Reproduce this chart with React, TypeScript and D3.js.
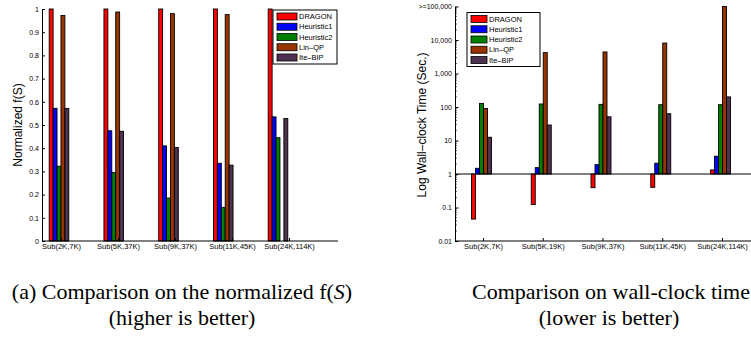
import { useEffect, useRef } from "react";
import * as d3 from "d3";

const scoreSubsets = ["Sub(2K,7K)", "Sub(5K,37K)", "Sub(9K,37K)", "Sub(11K,45K)", "Sub(24K,114K)"];
const timeSubsets = ["Sub(2K,7K)", "Sub(5K,19K)", "Sub(9K,37K)", "Sub(11K,45K)", "Sub(24K,114K)"];
const methods = ["DRAGON", "Heuristic1", "Heuristic2", "Lin\u2013QP", "Ite\u2013BIP"];
const colors = ["#ff0000", "#0000ff", "#007f00", "#993300", "#4d3350"];

// normalized f(S), null = not run
const dragonScore = [1, 1, 1, 1, 1];
const heur1Score = [0.572, 0.475, 0.41, 0.335, 0.535];
const heur2Score = [0.322, 0.295, 0.185, 0.145, 0.445];
const linqpScore = [0.972, 0.987, 0.98, 0.976, null];
const itebipScore = [0.571, 0.473, 0.403, 0.327, 0.528];

// wall-clock seconds
const dragonTime = [0.045, 0.123, 0.39, 0.4, 1.32];
const heur1Time = [1.48, 1.55, 1.9, 2.1, 3.4];
const heur2Time = [128, 123, 120, 117, 117];
const linqpTime = [90, 4200, 4400, 8100, 100000];
const itebipTime = [12.5, 29, 51, 63, 200];

const scoreTicks = [0, 0.1, 0.2, 0.3, 0.4, 0.5, 0.6, 0.7, 0.8, 0.9, 1];
const scoreTickLabels = ["0", "0.1", "0.2", "0.3", "0.4", "0.5", "0.6", "0.7", "0.8", "0.9", "1"];
const timeTicks = [0.01, 0.1, 1, 10, 100, 1000, 10000, 100000];
const timeTickLabels = ["0.01", "0.1", "1", "10", "100", "1,000", "10,000", ">=100,000"];

const SANS = "'Liberation Sans', Arial, Helvetica, sans-serif";
const SERIF = "'Liberation Serif', 'Times New Roman', serif";

export default function App() {
  const ref = useRef<SVGSVGElement>(null);

  useEffect(() => {
    const svg = d3.select(ref.current);
    svg.selectAll("*").remove();

    const scores = [dragonScore, heur1Score, heur2Score, linqpScore, itebipScore];
    const times = [dragonTime, heur1Time, heur2Time, linqpTime, itebipTime];

    // ---------- left chart ----------
    const left = svg.append("g");
    const yL = d3.scaleLinear().domain([0, 1]).range([241, 9]);
    const groupL = d3.scalePoint().domain(scoreSubsets).range([59, 278]);
    const tickL = d3.scalePoint().domain(scoreSubsets).range([61, 289]);
    const inner = d3.scaleBand().domain(methods).range([-9.8, 9.8]);

    methods.forEach((m, i) => {
      scoreSubsets.forEach((s, j) => {
        const v = scores[i][j];
        if (v == null) return;
        left
          .append("rect")
          .attr("x", groupL(s)! + inner(m)!)
          .attr("y", yL(v))
          .attr("width", inner.bandwidth())
          .attr("height", yL(0) - yL(v))
          .attr("fill", colors[i])
          .attr("stroke", "#000")
          .attr("stroke-width", 0.9);
      });
    });

    const yAxL = left
      .append("g")
      .attr("transform", "translate(42,0)")
      .call(
        d3
          .axisLeft(yL)
          .tickValues(scoreTicks)
          .tickFormat((d, k) => scoreTickLabels[k])
          .tickSize(-3)
          .tickSizeOuter(0)
          .tickPadding(3)
      );
    yAxL.selectAll("text").attr("font-size", 7).attr("font-family", SANS).attr("fill", "#000");

    const xAxL = left
      .append("g")
      .attr("transform", "translate(0,241)")
      .call(d3.axisBottom(tickL).tickSize(-3).tickPadding(3));
    xAxL.select(".domain").remove();
    xAxL.selectAll("text").attr("font-size", 7.5).attr("font-family", SANS).attr("fill", "#000");
    left.append("line").attr("x1", 42).attr("x2", 338).attr("y1", 241).attr("y2", 241).attr("stroke", "#000");

    left
      .append("text")
      .attr("transform", "translate(22,125) rotate(-90)")
      .attr("text-anchor", "middle")
      .attr("font-family", SANS)
      .attr("font-size", 12)
      .text("Normalized f(S)");

    drawLegend(left, 273, 10, 64, 54, 20);

    // ---------- right chart ----------
    const right = svg.append("g");
    const yR = d3.scaleLog().domain([0.01, 100000]).range([241, 6.5]);
    const tickR = d3.scalePoint().domain(timeSubsets).range([483, 722]);
    const innerR = d3.scaleBand().domain(methods).range([-11.5, 8.5]);

    methods.forEach((m, i) => {
      timeSubsets.forEach((s, j) => {
        const v = times[i][j];
        const y0 = yR(1);
        const y1 = yR(v);
        right
          .append("rect")
          .attr("x", tickR(s)! + innerR(m)!)
          .attr("y", Math.min(y0, y1))
          .attr("width", innerR.bandwidth())
          .attr("height", Math.abs(y0 - y1))
          .attr("fill", colors[i])
          .attr("stroke", "#000")
          .attr("stroke-width", 0.9);
      });
    });

    right.append("line").attr("x1", 455).attr("x2", 751).attr("y1", yR(1)).attr("y2", yR(1)).attr("stroke", "#000");

    const minor: number[] = [];
    for (let d = -2; d < 5; d++) for (let k = 2; k < 10; k++) minor.push(k * Math.pow(10, d));
    right
      .selectAll(".minor")
      .data(minor)
      .join("line")
      .attr("x1", 455)
      .attr("x2", 457)
      .attr("y1", (d) => yR(d))
      .attr("y2", (d) => yR(d))
      .attr("stroke", "#000")
      .attr("stroke-width", 0.6);

    const yAxR = right
      .append("g")
      .attr("transform", "translate(455,0)")
      .call(
        d3
          .axisLeft(yR)
          .tickValues(timeTicks)
          .tickFormat((d, k) => timeTickLabels[k])
          .tickSize(-3.5)
          .tickSizeOuter(0)
          .tickPadding(3)
      );
    yAxR.selectAll("text").attr("font-size", 7).attr("font-family", SANS).attr("fill", "#000");

    const xAxR = right
      .append("g")
      .attr("transform", "translate(0,241)")
      .call(d3.axisBottom(tickR).tickSize(-3).tickPadding(3));
    xAxR.select(".domain").remove();
    xAxR.selectAll("text").attr("font-size", 7.5).attr("font-family", SANS).attr("fill", "#000");
    right.append("line").attr("x1", 455).attr("x2", 751).attr("y1", 241).attr("y2", 241).attr("stroke", "#000");

    right
      .append("text")
      .attr("transform", "translate(426,125) rotate(-90)")
      .attr("text-anchor", "middle")
      .attr("font-family", SANS)
      .attr("font-size", 12)
      .text("Log Wall\u2013clock Time (Sec.)");

    drawLegend(right, 467, 12.5, 73, 54, 16);

    function drawLegend(g: any, x: number, y: number, w: number, h: number, sw: number) {
      const lg = g.append("g").attr("transform", `translate(${x},${y})`);
      lg.append("rect").attr("width", w).attr("height", h).attr("fill", "#fff").attr("stroke", "#000").attr("stroke-width", 1);
      const row = d3.scalePoint().domain(methods).range([6.5, 47.5]);
      methods.forEach((m, i) => {
        lg.append("rect")
          .attr("x", 4)
          .attr("y", row(m)! - 3.5)
          .attr("width", sw)
          .attr("height", 7)
          .attr("fill", colors[i])
          .attr("stroke", "#000")
          .attr("stroke-width", 0.8);
        lg.append("text")
          .attr("x", sw + 6)
          .attr("y", row(m)!)
          .attr("dy", "0.35em")
          .attr("font-family", SANS)
          .attr("font-size", 7.5)
          .text(m);
      });
    }

    // ---------- captions ----------
    const cap = svg.append("g").attr("font-family", SERIF).attr("font-size", 22).attr("text-anchor", "middle");
    const c1 = cap.append("text").attr("x", 182).attr("y", 299);
    c1.append("tspan").text("(a) Comparison on the normalized f(");
    c1.append("tspan").attr("font-style", "italic").text("S");
    c1.append("tspan").text(")");
    cap.append("text").attr("x", 182).attr("y", 325).text("(higher is better)");
    cap.append("text").attr("x", 611).attr("y", 299).text("Comparison on wall-clock time");
    cap.append("text").attr("x", 609).attr("y", 325).text("(lower is better)");
  });

  return (
    <svg
      ref={ref}
      width={751}
      height={337}
      style={{ position: "absolute", left: 0, top: 0, background: "#fff" }}
    />
  );
}
